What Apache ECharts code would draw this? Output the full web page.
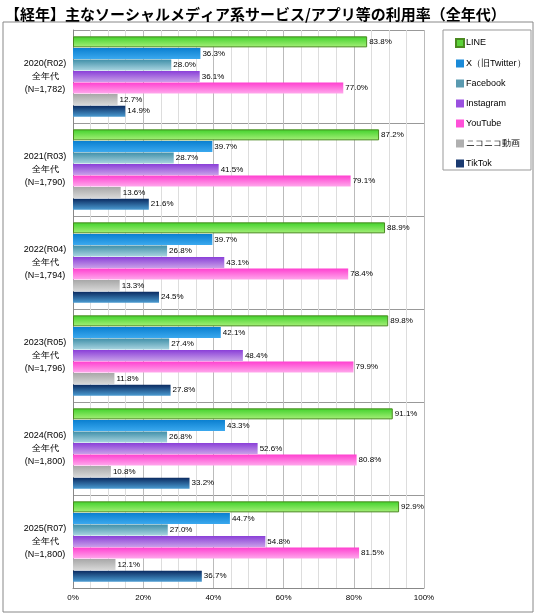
<!DOCTYPE html>
<html><head><meta charset="utf-8">
<script src="https://cdn.jsdelivr.net/npm/echarts@6/dist/echarts.min.js"></script>
<style>html,body{margin:0;padding:0;background:#fff}#c{width:538px;height:616px}</style>
</head><body><div id="c"></div>
<script>
const categories = ['2020(R02)\n全年代\n(N=1,782)','2021(R03)\n全年代\n(N=1,790)','2022(R04)\n全年代\n(N=1,794)','2023(R05)\n全年代\n(N=1,796)','2024(R06)\n全年代\n(N=1,800)','2025(R07)\n全年代\n(N=1,800)'];
const seriesNames = ['LINE','X（旧Twitter）','Facebook','Instagram','YouTube','ニコニコ動画','TikTok'];
const LINE = [83.8,87.2,88.9,89.8,91.1,92.9];
const X = [36.3,39.7,39.7,42.1,43.3,44.7];
const Facebook = [28.0,28.7,26.8,27.4,26.8,27.0];
const Instagram = [36.1,41.5,43.1,48.4,52.6,54.8];
const YouTube = [77.0,79.1,78.4,79.9,80.8,81.5];
const Niconico = [12.7,13.6,13.3,11.8,10.8,12.1];
const TikTok = [14.9,21.6,24.5,27.8,33.2,36.7];
const values = [LINE,X,Facebook,Instagram,YouTube,Niconico,TikTok];
const colors = [['#3fd12a','#a8f07a'],['#0a7fd0','#3aa8ee'],['#3f8fa8','#a8d4e0'],['#8a3fd8','#c8a0e8'],['#ff40d0','#ffa8ec'],['#a8a8a8','#d8d8d8'],['#0a2a60','#4a9ad0']];
const legendColors = ['#5cd23a','#1a8ad8','#5a9ab0','#9a50e0','#ff50d8','#b0b0b0','#1a3a70'];
const chart = echarts.init(document.getElementById('c'));
chart.setOption({
  animation:false,
  title:{text:'【経年】主なソーシャルメディア系サービス/アプリ等の利用率（全年代）',left:0,top:2,textStyle:{fontSize:15,fontWeight:'bold',color:'#000',fontFamily:'Noto Sans CJK JP'}},
  graphic:[{type:'rect',shape:{x:3,y:22,width:530,height:590},style:{fill:'none',stroke:'#888',lineWidth:1}},
           {type:'rect',shape:{x:443,y:30,width:88,height:140},style:{fill:'none',stroke:'#999',lineWidth:1}}],
  legend:{orient:'vertical',left:450,top:33,itemWidth:8,itemHeight:8,itemGap:11,icon:'rect',
    textStyle:{fontSize:9,color:'#000',padding:[0,0,0,-3]},
    data:seriesNames.map((n,i)=>({name:n,itemStyle:{color:legendColors[i]}}))},
  grid:{left:73,right:114,top:30,bottom:28},
  xAxis:{type:'value',min:0,max:100,interval:20,position:'bottom',
    axisLabel:{formatter:'{value}%',fontSize:8,color:'#000',margin:6},
    axisLine:{show:true,lineStyle:{color:'#888'}},axisTick:{show:false},
    splitLine:{lineStyle:{color:'#bbb'}},minorTick:{show:false,splitNumber:4},
    minorSplitLine:{show:true,lineStyle:{color:'#ddd'}}},
  yAxis:{type:'category',data:categories,inverse:true,
    axisLabel:{fontSize:9,color:'#000',lineHeight:13,align:'center',margin:28},
    axisLine:{lineStyle:{color:'#888'}},axisTick:{length:4,lineStyle:{color:'#888'}},
    splitLine:{show:true,lineStyle:{color:'#999'}}},
  series:values.map((v,i)=>({name:seriesNames[i],type:'bar',data:v,barWidth:11,barGap:'5%',barCategoryGap:'10%',
    itemStyle:{color:new echarts.graphic.LinearGradient(0,0,0,1,[{offset:0,color:colors[i][0]},{offset:1,color:colors[i][1]}]),borderColor:i===0?'#4a8a20':'transparent',borderWidth:i===0?1:0},
    label:{show:true,position:'right',distance:2,formatter:p=>p.value.toFixed(1)+'%',fontSize:8,color:'#000'}}))
});
</script></body></html>
